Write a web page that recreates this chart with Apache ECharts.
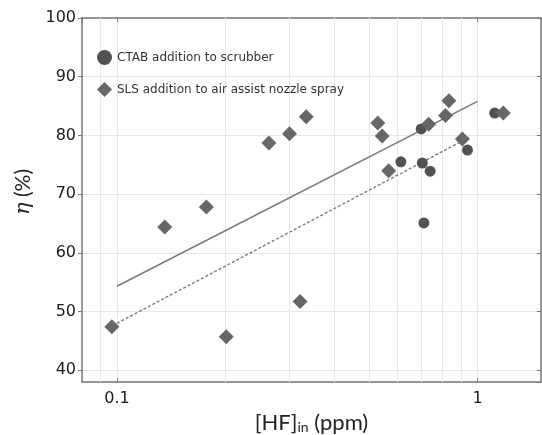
<!DOCTYPE html>
<html><head><meta charset="utf-8">
<script src="https://cdn.jsdelivr.net/npm/echarts@6/dist/echarts.min.js"></script>
<style>html,body{margin:0;padding:0;background:#fff}#c{width:542px;height:435px}</style>
</head><body><div id="c"></div>
<script>
// CTAB addition to scrubber
const ctabX = [0.613, 0.698, 0.703, 0.739, 0.710, 0.938, 1.116];
const ctabY = [75.5, 81.1, 75.3, 73.9, 65.1, 77.5, 83.8];
// SLS addition to air assist nozzle spray
const slsX = [0.0968, 0.1357, 0.177, 0.201, 0.264, 0.301, 0.322, 0.335, 0.529, 0.544, 0.567, 0.732, 0.815, 0.833, 0.908, 1.179];
const slsY = [47.4, 64.4, 67.8, 45.7, 78.7, 80.3, 51.7, 83.2, 82.1, 79.9, 74.0, 81.9, 83.4, 85.9, 79.4, 83.8];
// fit lines
const fitSolidX = [0.1, 1.0];
const fitSolidY = [54.3, 85.8];
const fitDashX = [0.1, 0.95];
const fitDashY = [48.0, 79.7];
// minor grid positions on log axis
const minorX = [0.09, 0.2, 0.3, 0.4, 0.5, 0.6, 0.7, 0.8, 0.9];

const zip = (xs, ys) => xs.map((x, i) => [x, ys[i]]);
const font = 'DejaVu Sans';
const chart = echarts.init(document.getElementById('c'), null, {renderer: 'canvas'});
chart.setOption({
  animation: false,
  backgroundColor: '#fff',
  grid: {left: 82, top: 18, width: 459, height: 364, containLabel: false, outerBoundsMode: 'none'},
  legend: {
    data: [
      {name: 'CTAB addition to scrubber', icon: 'circle'},
      {name: 'SLS addition to air assist nozzle spray', icon: 'diamond'}
    ],
    orient: 'vertical', left: 92, top: 45, itemWidth: 15, itemHeight: 15, itemGap: 17,
    lineStyle: {width: 0, opacity: 0},
    textStyle: {fontFamily: font, fontSize: 12, color: '#333'}
  },
  xAxis: [{
    type: 'log', logBase: 10, min: 0.08, max: 1.5,
    axisLine: {show: true, lineStyle: {color: '#777', width: 1.5}},
    axisTick: {show: true, inside: true, length: 4, lineStyle: {color: '#777'}},
    axisLabel: {showMinLabel: false, showMaxLabel: false, margin: 9, fontFamily: font, fontSize: 16, color: '#1a1a1a'},
    splitLine: {show: true, lineStyle: {color: '#e6e6e6', width: 1}},
    name: '{a|[HF]}{s|in}{a|\u00a0(ppm)}', nameLocation: 'middle', nameGap: 27,
    nameTextStyle: {rich: {
      a: {fontFamily: 'Lato', fontSize: 22, color: '#222'},
      s: {fontFamily: 'Lato', fontSize: 14, color: '#222', padding: [10, 0, 0, 0]}
    }}
  }, {
    type: 'log', logBase: 10, min: 0.08, max: 1.5, position: 'top',
    axisLine: {show: true, lineStyle: {color: '#777', width: 1.5}},
    axisTick: {show: true, inside: true, length: 4, lineStyle: {color: '#777'}},
    axisLabel: {show: false}, splitLine: {show: false}
  }],
  yAxis: [{
    type: 'value', min: 38, max: 100,
    axisLine: {show: true, lineStyle: {color: '#777', width: 1.5}},
    axisTick: {show: true, length: 4, lineStyle: {color: '#777'}},
    axisLabel: {showMinLabel: false, margin: 6, fontFamily: font, fontSize: 16, color: '#1a1a1a',
      formatter: v => (v % 10 === 0 ? String(v) : '')},
    splitLine: {show: true, lineStyle: {color: '#e6e6e6', width: 1}},
    name: '{i|η} (%)', nameLocation: 'middle', nameGap: 48, nameRotate: 90,
    nameTextStyle: {fontFamily: 'Lato', fontSize: 21, color: '#222', padding: [0, 0, 0, 16],
      rich: {i: {fontFamily: 'DejaVu Serif', fontStyle: 'italic', fontSize: 21, color: '#222'}}}
  }, {
    type: 'value', min: 38, max: 100, position: 'right',
    axisLine: {show: true, lineStyle: {color: '#777', width: 1.5}},
    axisTick: {show: true, inside: true, length: 4, lineStyle: {color: '#777'}},
    axisLabel: {show: false}, splitLine: {show: false}
  }],
  series: [
    {
      name: 'fitSolid', type: 'line', data: zip(fitSolidX, fitSolidY), symbol: 'none', z: 3,
      lineStyle: {color: '#7a7a7a', width: 1.6},
      markLine: {silent: true, symbol: 'none', label: {show: false}, z: 1,
        lineStyle: {color: '#e6e6e6', type: 'solid', width: 1},
        data: minorX.map(v => ({xAxis: v}))}
    },
    {
      name: 'fitDash', type: 'line', data: zip(fitDashX, fitDashY), symbol: 'none', z: 3,
      lineStyle: {color: '#7a7a7a', width: 1.4, type: [3, 2]}
    },
    {
      name: 'CTAB addition to scrubber', type: 'scatter', data: zip(ctabX, ctabY),
      symbol: 'circle', symbolSize: 11, z: 5, itemStyle: {color: '#525252', opacity: 1}
    },
    {
      name: 'SLS addition to air assist nozzle spray', type: 'scatter', data: zip(slsX, slsY),
      symbol: 'diamond', symbolSize: 15, z: 6, itemStyle: {color: '#676767', opacity: 1}
    }
  ]
});
</script></body></html>
